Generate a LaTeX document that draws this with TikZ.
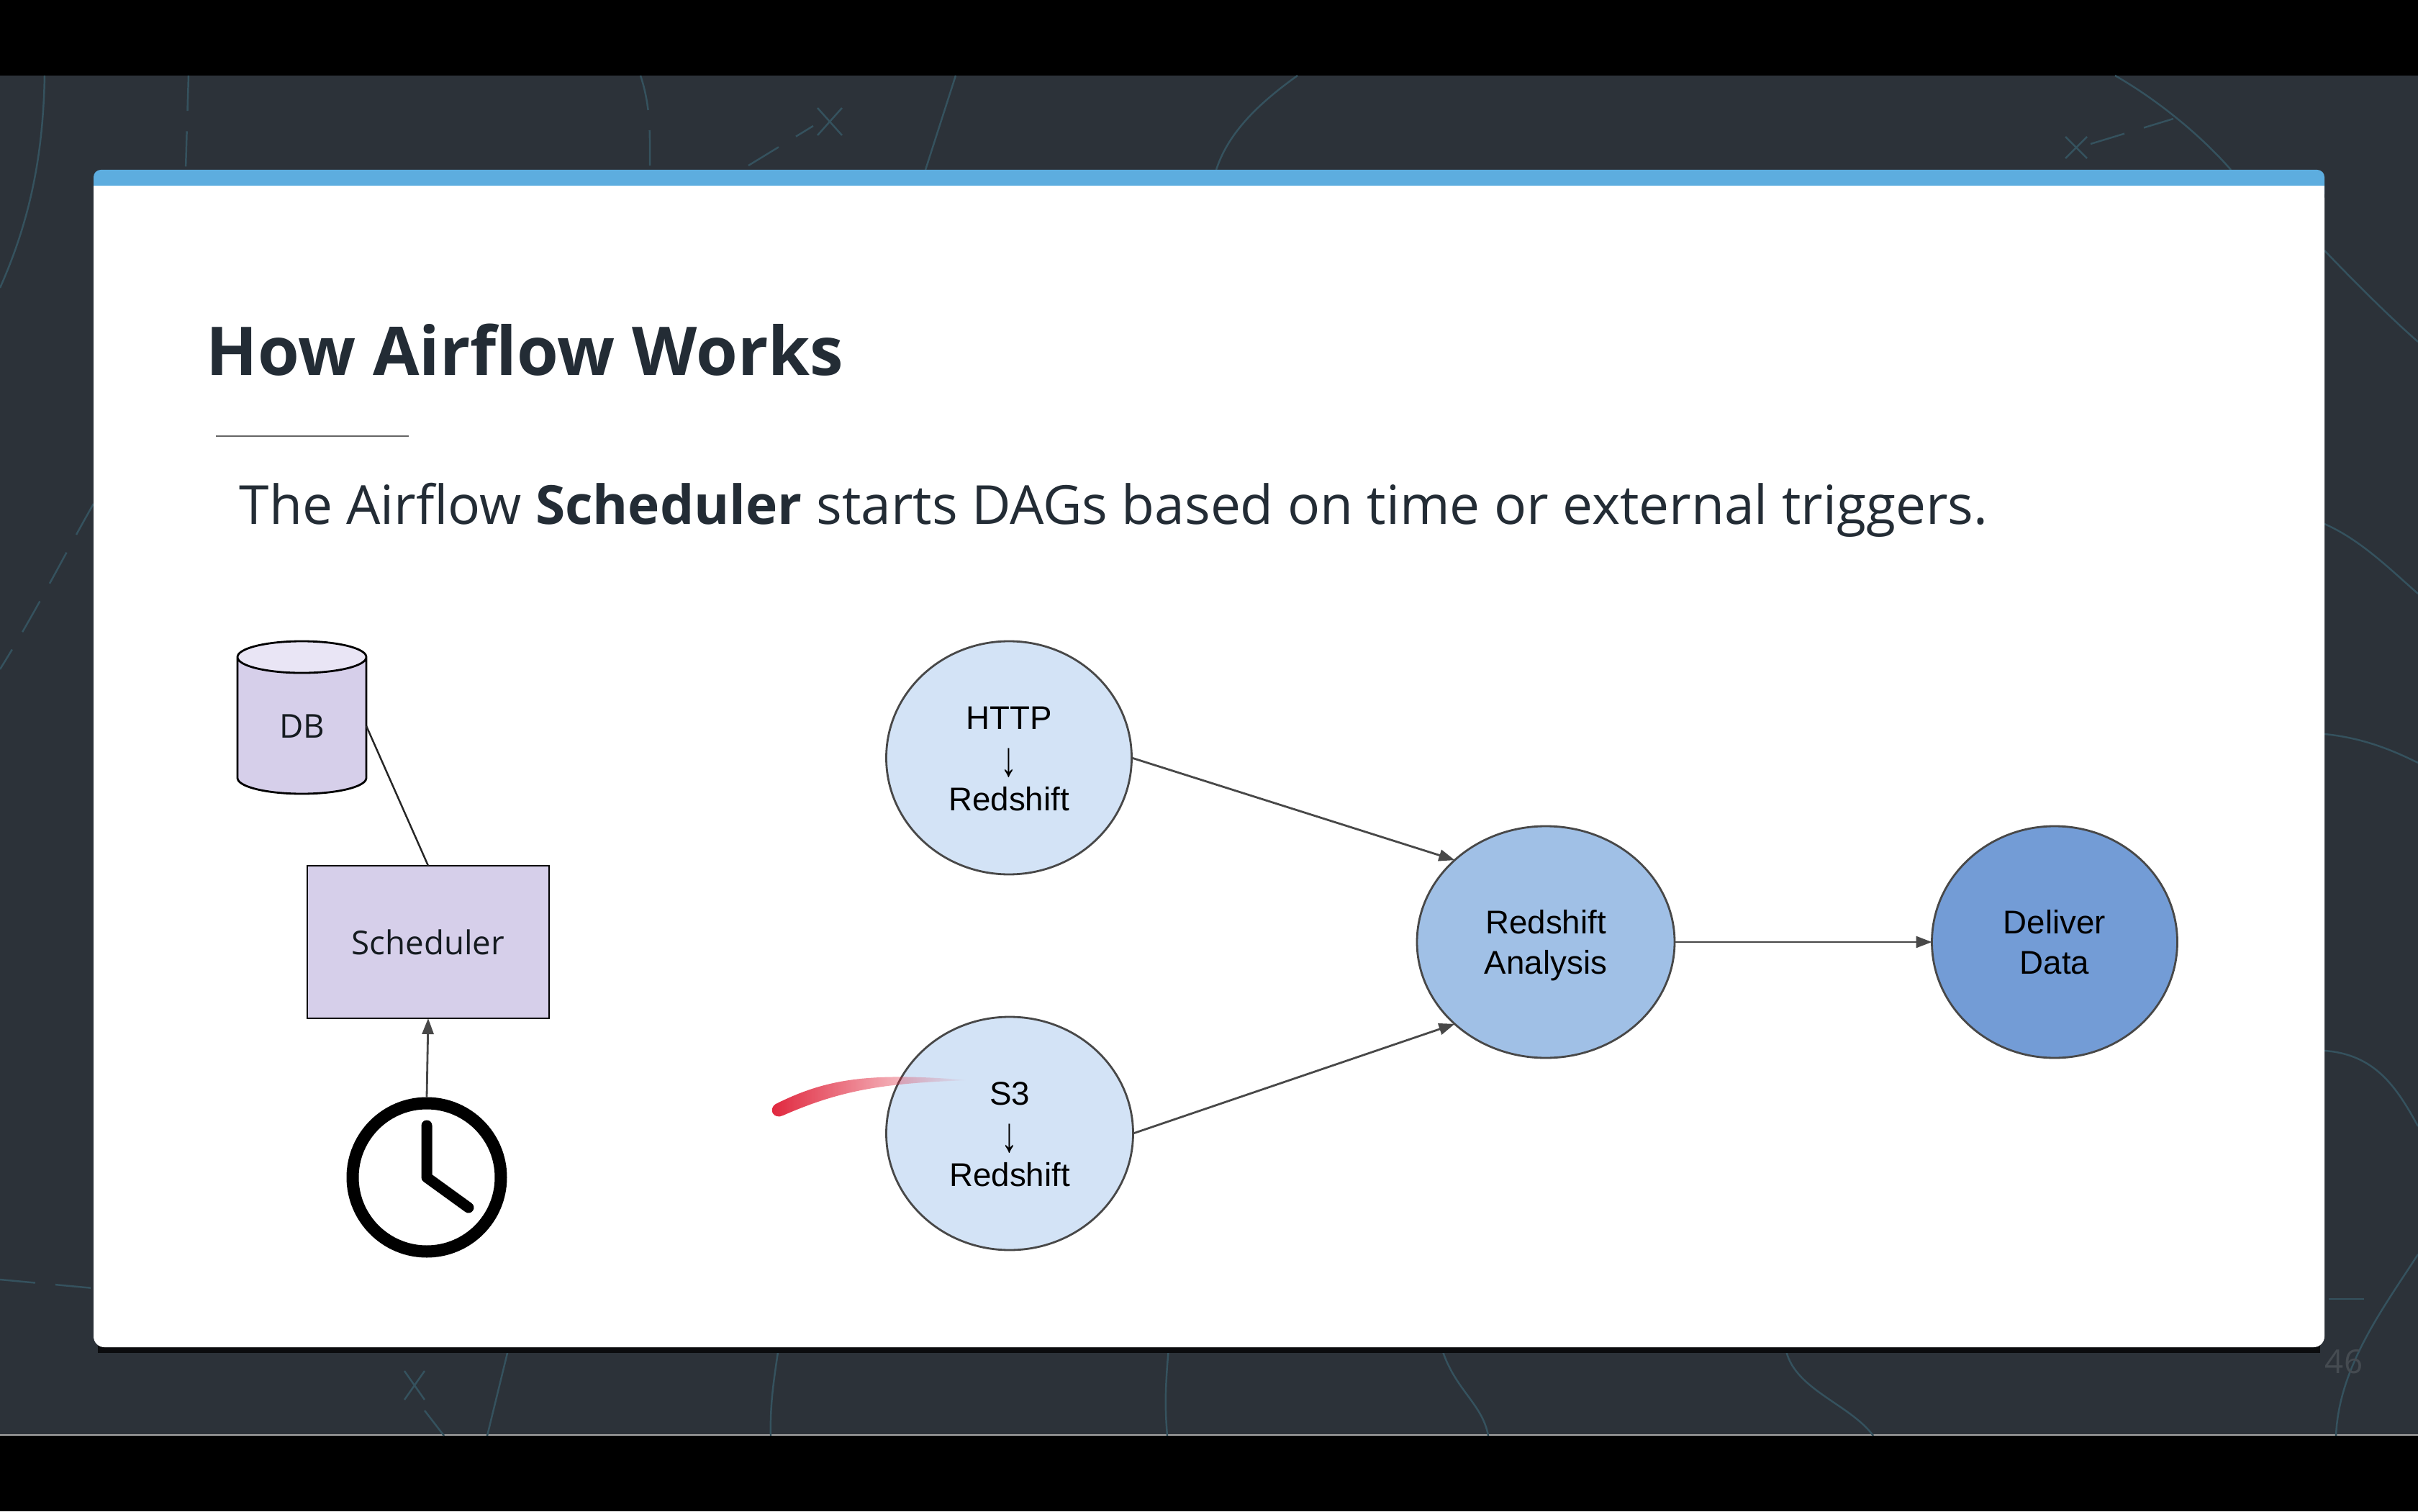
\documentclass[tikz,border=0pt]{standalone}
\usepackage{fontspec}
\usepackage{xcolor}
\setmainfont{Open Sans}
\newfontfamily\arialfont{Liberation Sans}
\usetikzlibrary{arrows.meta}
\usetikzlibrary{fadings}
\usetikzlibrary{shapes.geometric}

\definecolor{slate}{HTML}{2C3239}
\definecolor{trace}{HTML}{35525E}
\definecolor{topbar}{HTML}{5DADDF}
\definecolor{ink}{HTML}{232C35}
\definecolor{dimnum}{HTML}{454B51}
\definecolor{lilac}{HTML}{D6CFEA}
\definecolor{lilactop}{HTML}{E9E5F5}
\definecolor{paleblue}{HTML}{D3E3F6}
\definecolor{midblue}{HTML}{A0C0E6}
\definecolor{deepblue}{HTML}{739CD6}
\definecolor{edge}{HTML}{484848}
\definecolor{marker}{HTML}{E0233A}

\newcommand{\tallarrow}{\smash{\raisebox{-0.35ex}{\scalebox{1}[1.5]{↓}}}}
\newcommand{\topstrut}{\rule{0pt}{14.4pt}}

\tikzset{
    trail/.style={draw=trace,line width=0.7pt},
    trailx/.style={trail,dash pattern=on 14pt off 8pt},
    flow/.style={draw=edge,line width=0.8pt,-{Triangle[length=2.2mm,width=1.6mm]}},
    bubble/.style={ellipse,draw=edge,line width=0.8pt,outer sep=0pt,inner sep=0pt,
        font=\arialfont\fontsize{13}{16}\selectfont,align=center,text=black},
    purple/.style={draw=black,line width=0.8pt,outer sep=0pt,
        font=\fontsize{13}{16}\selectfont,text=ink!60!black}
}

\begin{document}
\begin{tikzpicture}
    \useasboundingbox (0, 0) rectangle (33.6, 21);
    \fill [black] (0, 0) rectangle (33.6, 21);
    \fill [slate] (0, 1.05) rectangle (33.6, 19.95);
    \draw [draw=gray!70,line width=0.6pt] (0, 1.06) -- (33.6, 1.06);

    \draw [trail] (0.62, 19.95) .. controls (0.6, 18.8) and (0.4, 17.9) .. (0, 17);
    \draw [trailx] (2.62, 19.95) -- (2.58, 18.64);
    \draw [trailx] (8.9, 19.95) .. controls (9.05, 19.5) and (9.03, 19.1) .. (9.03, 18.64);
    \draw [trailx] (10.4, 18.7) -- (11.3, 19.25);
    \draw [trail] (11.36, 19.5) -- (11.7, 19.12) (11.36, 19.12) -- (11.7, 19.5);
    \draw [trail] (13.28, 19.95) -- (12.86, 18.64);
    \draw [trail] (18.03, 19.95) .. controls (17.4, 19.5) and (17.05, 19.1) .. (16.9, 18.64);
    \draw [trail] (29.39, 19.95) .. controls (30, 19.6) and (30.6, 19.1) .. (31, 18.64);
    \draw [trail] (28.7, 18.8) -- (29, 19.1) (28.7, 19.1) -- (29, 18.8);
    \draw [trailx] (29.05, 19) -- (30.2, 19.35);
    \draw [trail] (32.3, 17.52) .. controls (32.7, 17.1) and (33.2, 16.6) .. (33.6, 16.25);
    \draw [trail] (32.3, 13.72) .. controls (32.8, 13.5) and (33.2, 13.1) .. (33.6, 12.75);
    \draw [trail] (32.3, 10.8) .. controls (32.8, 10.75) and (33.2, 10.6) .. (33.6, 10.4);
    \draw [trail] (32.3, 6.4) .. controls (33, 6.35) and (33.3, 5.9) .. (33.6, 5.35);
    \draw [trailx] (32.36, 2.95) -- (33, 2.95);
    \draw [trail] (33.6, 3.57) .. controls (33.1, 2.8) and (32.5, 2) .. (32.46, 1.05);
    \draw [trailx] (1.3, 14) .. controls (0.9, 13.3) and (0.5, 12.5) .. (0, 11.7);
    \draw [trailx] (0, 3.22) -- (1.3, 3.1);
    \draw [trail] (7.07, 2.28) -- (6.77, 1.05);
    \draw [trail] (10.82, 2.28) .. controls (10.75, 1.8) and (10.7, 1.5) .. (10.71, 1.05);
    \draw [trail] (16.24, 2.28) .. controls (16.2, 1.8) and (16.18, 1.5) .. (16.22, 1.05);
    \draw [trail] (20.03, 2.28) .. controls (20.2, 1.7) and (20.6, 1.5) .. (20.68, 1.05);
    \draw [trail] (24.81, 2.28) .. controls (24.9, 1.7) and (25.7, 1.5) .. (26.03, 1.05);
    \draw [trail] (5.62, 1.95) -- (5.9, 1.55) (5.62, 1.55) -- (5.9, 1.95);
    \draw [trailx] (5.9, 1.4) -- (6.17, 1.05);

    \fill [black!75!slate] (1.36, 2.2) rectangle (32.24, 2.46);
    \fill [white,rounded corners=1.5mm] (1.3, 2.28) rectangle (32.3, 18.4);
    \fill [topbar,rounded corners=1mm] (1.3, 18.2) rectangle (32.3, 18.64);
    \fill [white] (1.3, 18.42) rectangle (32.3, 17);

    \path (2.86, 15.78) node [anchor=base west,inner sep=0pt,text=ink,
        font=\bfseries\fontsize{26.6}{32}\selectfont] (ti) {How Airflow Works};
    \draw [draw=gray!80!black,line width=0.7pt] (3, 14.94) -- (5.68, 14.94);
    \path (3.32, 13.71) node [anchor=base west,inner sep=0pt,text=ink,
        font=\fontsize{21.3}{25}\selectfont] (st)
        {The Airflow \textbf{Scheduler} starts DAGs based on time or external triggers.};
    \path (32.57, 1.92) node [anchor=base,inner sep=0pt,text=dimnum,
        font=\fontsize{13}{16}\selectfont] (pg) {46};

    \path (4.195, 11.03) node [cylinder,shape border rotate=90,aspect=0.7,purple,anchor=shape center,
        cylinder uses custom fill,cylinder body fill=lilac,cylinder end fill=lilactop,
        minimum width=1.79cm,minimum height=2.12cm,inner sep=0pt] (db) {DB};
    \path (5.95, 7.91) node [rectangle,purple,fill=lilac,minimum width=3.36cm,minimum height=2.12cm] (sc) {Scheduler};
    \draw [draw=black!85,line width=0.7pt] (db.east) -- (sc.north);

    \path (5.93, 4.64) node [circle,draw=black,line width=1.7mm,minimum size=2.06cm,inner sep=0pt] (ck) {};
    \draw [black,line width=1.5mm,line cap=round,line join=round]
        (ck.center) ++(0, 0.72) -- ++(0, -0.72) -- ++(0.58, -0.42);
    \draw [flow] (ck.north) -- (sc.south);

    \path (14.02, 10.47) node [bubble,fill=paleblue,minimum width=3.41cm,minimum height=3.24cm] (ht) {\topstrut HTTP\\\tallarrow\\Redshift\strut};
    \path (14.03, 5.25) node [bubble,fill=paleblue,minimum width=3.43cm,minimum height=3.24cm] (s3) {\topstrut S3\\\tallarrow\\Redshift\strut};
    \path (21.48, 7.91) node [bubble,fill=midblue,minimum width=3.58cm,minimum height=3.22cm] (ra) {\topstrut Redshift\\Analysis\strut};
    \path (28.55, 7.91) node [bubble,fill=deepblue,minimum width=3.41cm,minimum height=3.22cm] (dd) {\topstrut Deliver\\Data\strut};
    \draw [flow] (ht.east) -- (ra.north west);
    \draw [flow] (s3.east) -- (ra.south west);
    \draw [flow] (ra.east) -- (dd.west);

    \fill [marker,path fading=east] (10.78, 5.66) .. controls (11.5, 6.02) and (12.1, 6.1) .. (13.46, 5.99)
        .. controls (12.3, 5.95) and (11.7, 5.86) .. (10.88, 5.5)
        .. controls (10.76, 5.44) and (10.66, 5.58) .. (10.78, 5.66) -- cycle;
\end{tikzpicture}
\end{document}
